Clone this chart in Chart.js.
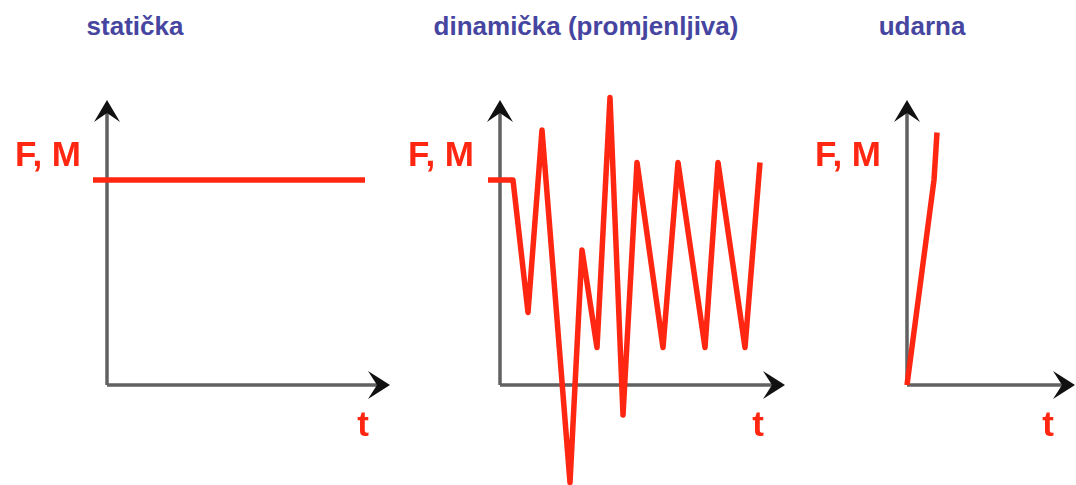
<!DOCTYPE html>
<html>
<head>
<meta charset="utf-8">
<script src="https://cdn.jsdelivr.net/npm/chart.js@4.4.1/dist/chart.umd.min.js"></script>
<style>
    body { margin: 0; background: #fff; width: 1076px; height: 485px; overflow: hidden; position: relative; }
    canvas { position: absolute; top: 0; }
    .title {
        position: absolute; top: 11px; width: 340px; text-align: center;
        font: bold 26px "Liberation Sans", Arial, sans-serif; line-height: 30px; color: #4646a0;
    }
</style>
</head>
<body>
<div class="title" style="left:-35px">statička</div>
<div class="title" style="left:416px">dinamička (promjenljiva)</div>
<div class="title" style="left:752px">udarna</div>
<canvas id="staticChart" width="400" height="485" style="left:7px"></canvas>
<canvas id="dynamicChart" width="400" height="485" style="left:400px"></canvas>
<canvas id="impactChart" width="269" height="485" style="left:807px"></canvas>
<script>
// t (time) and F,M (load) values for each panel
const staticT = [-0.56, 10.32];
const staticF = [8.2, 8.2];

const dynamicT = [-0.48, 0.52, 1.12, 1.68, 2.8, 3.28, 3.88, 4.4, 4.92, 5.48, 6.52, 7.12, 8.2, 8.72, 9.8, 10.4];
const dynamicF = [8.2, 8.2, 2.9, 10.2, -3.9, 5.4, 1.5, 11.5, -1.2, 8.9, 1.5, 8.9, 1.5, 8.9, 1.5, 8.9];

const impactT = [0, 1.08, 1.2];
const impactF = [0, 8.2, 10.1];

const axisLabelY = 'F, M';
const axisLabelX = 't';

const RED = 'rgb(255, 38, 18)';

// draws the two arrowed axes through the origin plus the F,M and t labels
const arrowAxes = {
    id: 'arrowAxes',
    beforeDatasetsDraw(chart, args, opts) {
        const { ctx, scales: { x, y } } = chart;
        const x0 = x.getPixelForValue(0);
        const y0 = y.getPixelForValue(0);
        const xTip = x.getPixelForValue(opts.xEnd);
        const yTip = y.getPixelForValue(opts.yEnd);

        ctx.save();
        ctx.strokeStyle = '#616161';
        ctx.lineWidth = 3.5;
        ctx.beginPath();
        ctx.moveTo(x0, y0);
        ctx.lineTo(xTip - 10, y0);
        ctx.moveTo(x0, y0);
        ctx.lineTo(x0, yTip + 10);
        ctx.stroke();

        ctx.fillStyle = '#111';
        // horizontal arrowhead
        ctx.beginPath();
        ctx.moveTo(xTip, y0);
        ctx.lineTo(xTip - 22, y0 - 14);
        ctx.lineTo(xTip - 13, y0);
        ctx.lineTo(xTip - 22, y0 + 14);
        ctx.closePath();
        ctx.fill();
        // vertical arrowhead
        ctx.beginPath();
        ctx.moveTo(x0, yTip);
        ctx.lineTo(x0 - 13, yTip + 22);
        ctx.lineTo(x0, yTip + 13);
        ctx.lineTo(x0 + 13, yTip + 22);
        ctx.closePath();
        ctx.fill();

        ctx.fillStyle = RED;
        ctx.font = 'bold 35px "Liberation Sans", Arial, sans-serif';
        ctx.textBaseline = 'alphabetic';
        ctx.textAlign = 'right';
        ctx.fillText(axisLabelY, x0 - 26, y0 - 219);
        ctx.textAlign = 'center';
        ctx.fillText(axisLabelX, xTip - 27, y0 + 51);
        ctx.restore();
    }
};

function makeChart(id, ts, fs, xMax, xEnd) {
    return new Chart(document.getElementById(id), {
        type: 'line',
        data: {
            datasets: [{
                data: ts.map((t, i) => ({ x: t, y: fs[i] })),
                borderColor: RED,
                borderWidth: 5.5,
                borderJoinStyle: 'round',
                tension: 0,
                pointRadius: 0,
                clip: false
            }]
        },
        options: {
            responsive: false,
            animation: false,
            layout: { padding: 0 },
            scales: {
                x: { type: 'linear', min: -4, max: xMax, display: false },
                y: { type: 'linear', min: -4, max: 15.4, display: false }
            },
            plugins: {
                legend: { display: false },
                tooltip: { enabled: false },
                arrowAxes: { xEnd: xEnd, yEnd: 11.4 }
            }
        },
        plugins: [arrowAxes]
    });
}

makeChart('staticChart', staticT, staticF, 12, 11.32);
makeChart('dynamicChart', dynamicT, dynamicF, 12, 11.4);
makeChart('impactChart', impactT, impactF, 6.76, 6.72);
</script>
</body>
</html>
